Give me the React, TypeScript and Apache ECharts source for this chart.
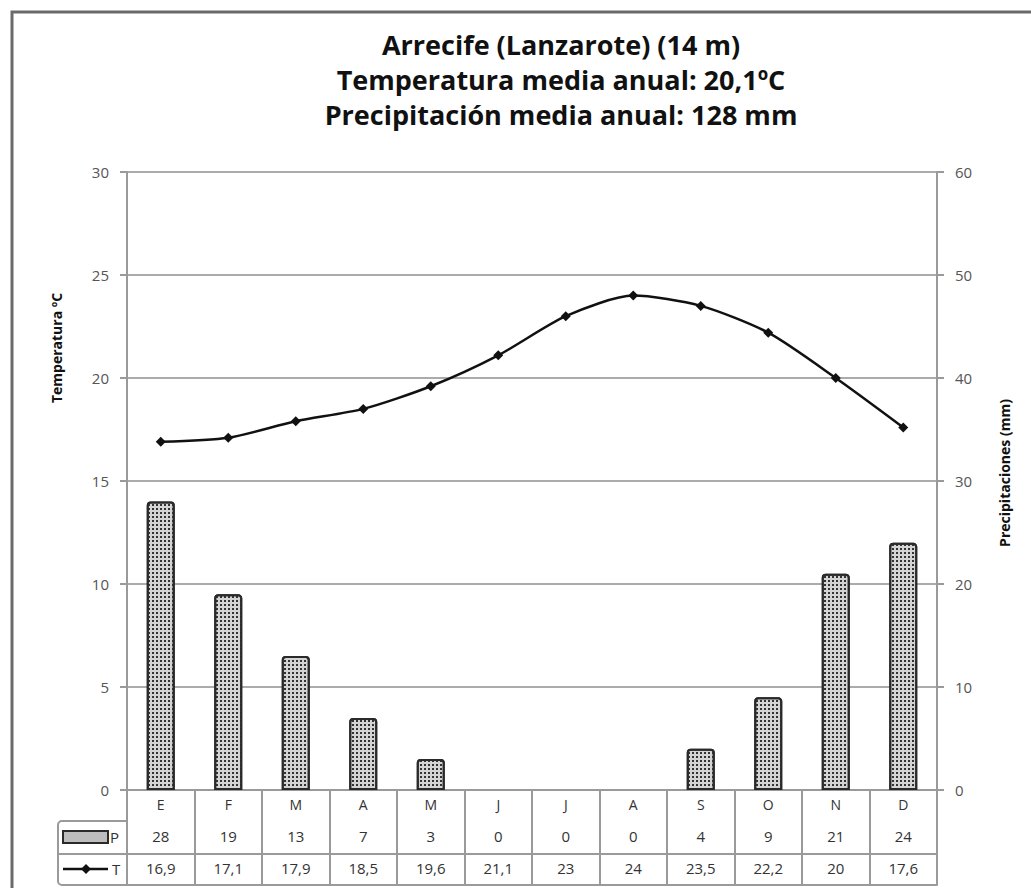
import React, { useEffect, useRef } from "react";
import * as echarts from "echarts";

const months = ["E", "F", "M", "A", "M", "J", "J", "A", "S", "O", "N", "D"];
const precip = [28, 19, 13, 7, 3, 0, 0, 0, 4, 9, 21, 24];
const temp = [16.9, 17.1, 17.9, 18.5, 19.6, 21.1, 23, 24, 23.5, 22.2, 20, 17.6];
const tempTicks = [0, 30, 5];
const precipTicks = [0, 60, 10];
const titleLines = [
  "Arrecife (Lanzarote) (14 m)",
  "Temperatura media anual: 20,1ºC",
  "Precipitación media anual: 128 mm",
];

const fmt = (v: number) => String(v).replace(".", ",");

export default function App() {
  const ref = useRef<HTMLDivElement>(null);
  useEffect(() => {
    if (!ref.current) return;
    const chart = echarts.init(ref.current, null, { renderer: "svg" });
    const gridLeft = 127;
    const gridRight = 937;
    const gridTop = 172;
    const gridBottom = 790;
    const font = "'Open Sans', sans-serif";
    const gray = "#9a9a9a";
    const decal = {
      symbol: "rect",
      symbolSize: 1,
      color: "#333333",
      dashArrayX: [1.4, 1.6],
      dashArrayY: [1.4, 1.6],
    };
    const tableAxisBase = {
      type: "category",
      position: "bottom",
      gridIndex: 0,
      boundaryGap: true,
      axisLine: { show: true, lineStyle: { color: gray, width: 2 } },
      axisTick: { show: false },
      axisPointer: { show: false },
    };
    chart.setOption({
      animation: false,
      backgroundColor: "#ffffff",
      title: {
        text: titleLines.join("\n"),
        left: 556,
        top: 22,
        textAlign: "center",
        textStyle: {
          fontFamily: font,
          fontWeight: "bold",
          fontSize: 27,
          lineHeight: 35,
          color: "#111",
        },
      },
      grid: {
        left: gridLeft,
        right: 1031 - gridRight,
        top: gridTop,
        bottom: 888 - gridBottom,
      },
      xAxis: [
        {
          ...tableAxisBase,
          data: months,
          axisTick: {
            show: true,
            interval: 0,
            length: 95,
            lineStyle: { color: gray, width: 2 },
          },
          axisLabel: { interval: 0, margin: 7, fontFamily: font, fontSize: 14, color: "#333" },
        },
        {
          ...tableAxisBase,
          offset: 31,
          data: precip.map(fmt),
          axisLabel: { interval: 0, margin: 7, fontFamily: font, fontSize: 15, color: "#333" },
        },
        {
          ...tableAxisBase,
          offset: 64,
          data: temp.map(fmt),
          axisLabel: { interval: 0, margin: 6, fontFamily: font, fontSize: 15, color: "#333" },
        },
        {
          ...tableAxisBase,
          offset: 95,
          data: months,
          axisLabel: { show: false },
        },
      ],
      yAxis: [
        {
          type: "value",
          min: tempTicks[0],
          max: tempTicks[1],
          interval: tempTicks[2],
          position: "left",
          axisLine: { show: true, lineStyle: { color: gray, width: 2 } },
          axisTick: { show: true, length: 7, lineStyle: { color: gray, width: 2 } },
          axisLabel: { margin: 18, fontFamily: font, fontSize: 15, color: "#555" },
          splitLine: { show: true, lineStyle: { color: "#ababab", width: 2 } },
        },
        {
          type: "value",
          min: precipTicks[0],
          max: precipTicks[1],
          interval: precipTicks[2],
          position: "right",
          axisLine: { show: true, lineStyle: { color: gray, width: 2 } },
          axisTick: { show: true, length: 7, lineStyle: { color: gray, width: 2 } },
          axisLabel: { margin: 18, fontFamily: font, fontSize: 15, color: "#555" },
          splitLine: { show: false },
        },
      ],
      series: [
        {
          type: "bar",
          name: "P",
          xAxisIndex: 0,
          yAxisIndex: 1,
          data: precip.map((v) =>
            v === 0 ? { value: v, itemStyle: { borderWidth: 0, opacity: 0 } } : v
          ),
          barWidth: 28,
          itemStyle: {
            color: "#d4d4d4",
            borderColor: "#2a2a2a",
            borderWidth: 2,
            borderRadius: [3, 3, 0, 0],
            decal,
          },
          z: 2,
        },
        {
          type: "line",
          name: "T",
          xAxisIndex: 0,
          yAxisIndex: 0,
          data: temp,
          smooth: 0.25,
          symbol: "diamond",
          symbolSize: 10,
          lineStyle: { color: "#111", width: 2.5 },
          itemStyle: { color: "#111" },
          z: 5,
        },
      ],
      graphic: [
        {
          type: "rect",
          shape: { x: 12, y: 12, width: 1100, height: 1000 },
          style: { fill: "none", stroke: "#6a6a6a", lineWidth: 3 },
          z: 0,
          silent: true,
        },
        {
          type: "text",
          x: 56,
          y: 348,
          rotation: Math.PI / 2,
          style: {
            text: "Temperatura ºC",
            fontFamily: font,
            fontWeight: "bold",
            fontSize: 14,
            fill: "#111",
            align: "center",
            verticalAlign: "middle",
          },
        },
        {
          type: "text",
          x: 1004,
          y: 473,
          rotation: Math.PI / 2,
          style: {
            text: "Precipitaciones (mm)",
            fontFamily: font,
            fontWeight: "bold",
            fontSize: 14,
            fill: "#111",
            align: "center",
            verticalAlign: "middle",
          },
        },
        {
          type: "rect",
          shape: { x: 58, y: 821, width: 69, height: 64, r: [4, 0, 0, 4] },
          style: { fill: "none", stroke: gray, lineWidth: 2 },
        },
        {
          type: "line",
          shape: { x1: 58, y1: 854, x2: 127, y2: 854 },
          style: { stroke: gray, lineWidth: 2 },
        },
        {
          type: "rect",
          shape: { x: 63, y: 831, width: 45, height: 12 },
          style: { fill: "#bdbdbd", stroke: "#2a2a2a", lineWidth: 2 },
        },
        {
          type: "text",
          x: 110,
          y: 837,
          style: { text: "P", fontFamily: font, fontSize: 15, fill: "#333", verticalAlign: "middle" },
        },
        {
          type: "line",
          shape: { x1: 63, y1: 869, x2: 108, y2: 869 },
          style: { stroke: "#111", lineWidth: 2.5 },
        },
        {
          type: "polygon",
          shape: { points: [[86, 864], [91, 869], [86, 874], [81, 869]] },
          style: { fill: "#111" },
        },
        {
          type: "text",
          x: 112,
          y: 869,
          style: { text: "T", fontFamily: font, fontSize: 15, fill: "#333", verticalAlign: "middle" },
        },
      ],
    });
    return () => chart.dispose();
  }, []);
  return (
    <div
      ref={ref}
      style={{ position: "fixed", left: 0, top: 0, width: 1031, height: 888, background: "#fff" }}
    />
  );
}
